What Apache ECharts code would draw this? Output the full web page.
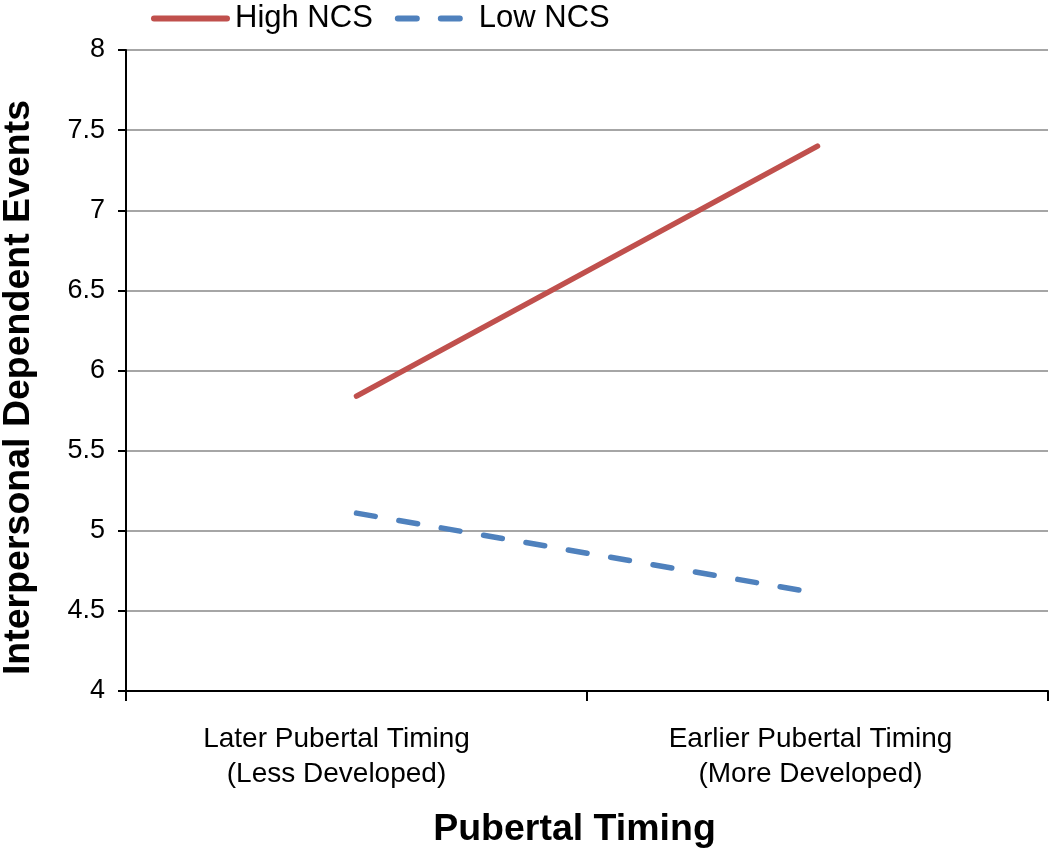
<!DOCTYPE html>
<html>
<head>
<meta charset="utf-8">
<script src="https://cdn.jsdelivr.net/npm/echarts@6/dist/echarts.min.js"></script>
<style>
html,body{margin:0;padding:0;background:#fff;}
#chart{width:1050px;height:848px;}
</style>
</head>
<body>
<div id="chart"></div>
<script>
const categories = ['Later Pubertal Timing\n(Less Developed)', 'Earlier Pubertal Timing\n(More Developed)'];
const highNCS = [5.84, 7.40];
const lowNCS = [5.11, 4.61];
const seriesNames = ['High NCS', 'Low NCS'];
const yTicks = { min: 4, max: 8, interval: 0.5 };
const xTitle = 'Pubertal Timing';
const yTitle = 'Interpersonal Dependent Events';

const FONT = '"Liberation Sans", Arial, Helvetica, sans-serif';
const chart = echarts.init(document.getElementById('chart'), null, { renderer: 'canvas' });
chart.setOption({
  backgroundColor: '#ffffff',
  animation: false,
  textStyle: { fontFamily: FONT, color: '#000' },
  legend: {
    left: 146, top: -2,
    itemWidth: 73, itemHeight: 28, itemGap: 22,
    itemStyle: { opacity: 0 },
    lineStyle: { width: 6, cap: 'round' },
    textStyle: { fontFamily: FONT, fontSize: 31, color: '#000', padding: [0, 0, 0, 3] },
    data: seriesNames
  },
  grid: { left: 126, right: 2, top: 50, bottom: 157, containLabel: false, outerBoundsMode: 'none' },
  xAxis: {
    type: 'category',
    data: categories,
    boundaryGap: true,
    axisLine: { lineStyle: { color: '#000', width: 2 } },
    axisTick: { show: true, alignWithLabel: false, length: 10, lineStyle: { color: '#000', width: 2 } },
    axisLabel: {
      fontFamily: FONT, fontSize: 28, color: '#000', margin: 31, lineHeight: 35, interval: 0,
      formatter: function (value, index) {
        const key = index === 0 ? 'a' : 'b';
        return value.split('\n').map(function (s) { return '{' + key + '|' + s + '}'; }).join('\n');
      },
      rich: {
        a: { fontFamily: FONT, fontSize: 28, color: '#000', lineHeight: 35, padding: [0, 40, 0, 0] },
        b: { fontFamily: FONT, fontSize: 28, color: '#000', lineHeight: 35, padding: [0, 14, 0, 0] }
      }
    },
    splitLine: { show: false },
    name: xTitle,
    nameLocation: 'middle',
    nameGap: 120,
    nameTextStyle: { fontFamily: FONT, fontSize: 37.5, fontWeight: 'bold', color: '#000', padding: [0, 25, 0, 0] }
  },
  yAxis: {
    type: 'value',
    min: yTicks.min, max: yTicks.max, interval: yTicks.interval,
    axisLine: { show: true, lineStyle: { color: '#000', width: 2 } },
    axisTick: { show: true, length: 8, lineStyle: { color: '#000', width: 2 } },
    axisLabel: { fontFamily: FONT, fontSize: 27, color: '#000', margin: 21 },
    splitLine: { show: true, lineStyle: { color: '#a6a6a6', width: 2 } },
    name: yTitle,
    nameLocation: 'middle',
    nameGap: 88,
    nameTextStyle: { fontFamily: FONT, fontSize: 37.5, fontWeight: 'bold', color: '#000', padding: [0, 34, 0, 0] }
  },
  series: [
    {
      name: seriesNames[0], type: 'line', data: highNCS, symbol: 'none',
      lineStyle: { color: '#c0504d', width: 5.5, cap: 'round' },
      itemStyle: { color: '#c0504d' }
    },
    {
      name: seriesNames[1], type: 'line', data: lowNCS, symbol: 'none',
      lineStyle: { color: '#4f81bd', width: 5.5, cap: 'round', type: [19, 24] },
      itemStyle: { color: '#4f81bd' }
    }
  ]
});
</script>
</body>
</html>
